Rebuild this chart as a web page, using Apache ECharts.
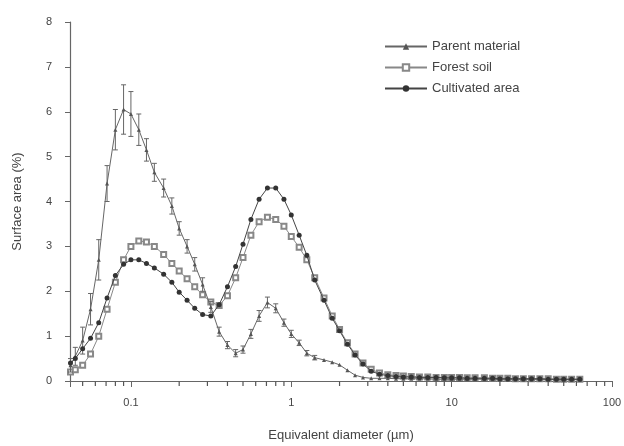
<!DOCTYPE html>
<html>
<head>
<meta charset="utf-8">
<script src="https://cdn.jsdelivr.net/npm/echarts@6/dist/echarts.min.js"></script>
<style>
  html, body { margin: 0; padding: 0; background: #fff; }
  #main { width: 624px; height: 446px; }
</style>
</head>
<body>
<div id="main"></div>
<script>
// equivalent diameter (um), one bin per point
var diameters = [0.042, 0.045, 0.05, 0.056, 0.063, 0.071, 0.08, 0.09,
  0.1, 0.112, 0.125, 0.14, 0.16, 0.18, 0.2, 0.224, 0.25, 0.28, 0.315, 0.355, 0.4, 0.45, 0.5, 0.56, 0.63, 0.71, 0.8, 0.9,
  1.0, 1.12, 1.25, 1.4, 1.6, 1.8, 2.0, 2.24, 2.5, 2.8, 3.15, 3.55, 4.0, 4.5, 5.0, 5.6, 6.3, 7.1, 8.0, 9.0,
  10, 11.2, 12.5, 14, 16, 18, 20, 22.4, 25, 28, 31.5, 35.5, 40, 45, 50, 56, 63]

var parentMaterial = [0.35, 0.55, 0.9, 1.6, 2.7, 4.4, 5.6, 6.05,
  5.95, 5.6, 5.15, 4.65, 4.3, 3.9, 3.4, 3.0, 2.6, 2.15, 1.65, 1.1, 0.8, 0.62, 0.7, 1.05, 1.45, 1.75, 1.62, 1.3,
  1.05, 0.85, 0.62, 0.52, 0.47, 0.42, 0.36, 0.24, 0.13, 0.08, 0.06, 0.06, 0.06, 0.05, 0.05, 0.05, 0.05, 0.05, 0.04, 0.04,
  0.04, 0.04, 0.04, 0.04, 0.04, 0.04, 0.03, 0.03, 0.03, 0.03, 0.03, 0.03, 0.03, 0.03, 0.03, 0.03, 0.03]

// half-height of the error bars on parent material (first bins only)
var parentErr = [0.15, 0.2, 0.3, 0.35, 0.45, 0.4, 0.45, 0.55,
  0.5, 0.35, 0.25, 0.2, 0.2, 0.18, 0.15, 0.15, 0.15, 0.15, 0.12, 0.1, 0.08, 0.08, 0.08, 0.1, 0.12, 0.12, 0.1, 0.08,
  0.08, 0.06, 0.06, 0.05]

var forestSoil = [0.2, 0.25, 0.35, 0.6, 1.0, 1.6, 2.2, 2.7,
  3.0, 3.12, 3.1, 3.0, 2.82, 2.62, 2.45, 2.28, 2.1, 1.92, 1.76, 1.68, 1.9, 2.3, 2.75, 3.25, 3.55, 3.65, 3.6, 3.45,
  3.22, 2.98, 2.7, 2.3, 1.85, 1.45, 1.15, 0.85, 0.6, 0.4, 0.26, 0.18, 0.14, 0.12, 0.11, 0.1, 0.09, 0.09, 0.08, 0.08,
  0.08, 0.08, 0.07, 0.07, 0.07, 0.06, 0.06, 0.06, 0.05, 0.05, 0.05, 0.05, 0.05, 0.04, 0.04, 0.04, 0.04]

var cultivatedArea = [0.4, 0.5, 0.72, 0.95, 1.3, 1.85, 2.35, 2.6,
  2.7, 2.7, 2.62, 2.52, 2.38, 2.2, 1.98, 1.8, 1.62, 1.48, 1.45, 1.7, 2.1, 2.55, 3.05, 3.6, 4.05, 4.3, 4.3, 4.05,
  3.7, 3.25, 2.8, 2.25, 1.8, 1.4, 1.12, 0.82, 0.58, 0.38, 0.22, 0.15, 0.12, 0.1, 0.09, 0.09, 0.08, 0.08, 0.08, 0.07,
  0.07, 0.07, 0.06, 0.06, 0.06, 0.06, 0.05, 0.05, 0.05, 0.05, 0.05, 0.05, 0.04, 0.04, 0.04, 0.04, 0.04]

// minor ticks of the log axis
var minorTicks = [0.05, 0.06, 0.07, 0.08, 0.09, 0.2, 0.3, 0.4, 0.5, 0.6, 0.7, 0.8, 0.9,
  2, 3, 4, 5, 6, 7, 8, 9, 20, 30, 40, 50, 60, 70, 80, 90]

var seriesNames = ['Parent material', 'Forest soil', 'Cultivated area']

var font = 'Liberation Sans, Arial, sans-serif'
var myChart = echarts.init(document.getElementById('main'))

function pairs(values) {
  return values.map(function (v, i) { return [diameters[i], v] })
}

var errData = parentErr.map(function (e, i) {
  return [diameters[i], parentMaterial[i] - e, parentMaterial[i] + e]
})

var xMin = 0.0417
var xMax = 100

myChart.setOption({
  animation: false,
  backgroundColor: '#fff',
  grid: { left: 70, right: 12, top: 22, bottom: 65, outerBoundsMode: 'none' },
  legend: {
    orient: 'vertical',
    left: 379,
    top: 35,
    itemWidth: 42,
    itemHeight: 8,
    itemGap: 8,
    data: seriesNames,
    textStyle: { fontFamily: font, fontSize: 13, color: '#444' }
  },
  xAxis: {
    type: 'log',
    logBase: 10,
    min: xMin,
    max: xMax,
    name: 'Equivalent diameter (µm)',
    nameLocation: 'middle',
    nameGap: 48,
    nameTextStyle: { fontFamily: font, fontSize: 13, color: '#444' },
    axisLine: { lineStyle: { color: '#666', width: 1.2 } },
    axisTick: { length: 6, lineStyle: { color: '#666' } },
    splitLine: { show: false },
    axisLabel: {
      fontFamily: font, fontSize: 11, color: '#444', margin: 16,
      formatter: function (v) {
        var p = Math.log10(v)
        if (Math.abs(p - Math.round(p)) > 1e-6) return ''
        return String(+v.toPrecision(3))
      }
    }
  },
  yAxis: {
    type: 'value',
    min: 0,
    max: 8,
    interval: 1,
    name: 'Surface area (%)',
    nameLocation: 'middle',
    nameGap: 46,
    nameTextStyle: { fontFamily: font, fontSize: 13, color: '#444' },
    axisLine: { show: true, lineStyle: { color: '#666', width: 1.2 } },
    axisTick: { show: true, length: 5, lineStyle: { color: '#666' } },
    splitLine: { show: false },
    axisLabel: { fontFamily: font, fontSize: 11, color: '#444', margin: 18 }
  },
  series: [
    {
      name: seriesNames[0],
      type: 'line',
      data: pairs(parentMaterial),
      symbol: 'triangle',
      symbolSize: 4,
      lineStyle: { color: '#666', width: 1 },
      itemStyle: { color: '#555' },
      z: 3
    },
    {
      name: seriesNames[1],
      type: 'line',
      data: pairs(forestSoil),
      symbol: 'emptyRect',
      symbolSize: 5,
      lineStyle: { color: '#888', width: 1 },
      itemStyle: { color: '#888', borderColor: '#888', borderWidth: 1 },
      z: 2
    },
    {
      name: seriesNames[2],
      type: 'line',
      data: pairs(cultivatedArea),
      symbol: 'circle',
      symbolSize: 5,
      lineStyle: { color: '#444', width: 1 },
      itemStyle: { color: '#333' },
      z: 4
    },
    {
      // error bars for parent material
      type: 'custom',
      silent: true,
      data: errData,
      encode: { x: 0, y: [1, 2] },
      renderItem: function (params, api) {
        var lo = api.coord([api.value(0), api.value(1)])
        var hi = api.coord([api.value(0), api.value(2)])
        var style = { stroke: '#666', lineWidth: 1 }
        return {
          type: 'group',
          children: [
            { type: 'line', shape: { x1: lo[0], y1: lo[1], x2: hi[0], y2: hi[1] }, style: style },
            { type: 'line', shape: { x1: lo[0] - 2.5, y1: lo[1], x2: lo[0] + 2.5, y2: lo[1] }, style: style },
            { type: 'line', shape: { x1: hi[0] - 2.5, y1: hi[1], x2: hi[0] + 2.5, y2: hi[1] }, style: style }
          ]
        }
      },
      z: 3
    },
    {
      // minor ticks hanging under the x axis
      type: 'custom',
      silent: true,
      clip: false,
      data: minorTicks.map(function (t) { return [t, 0.3, 0.3] }),
      encode: { x: 0, y: [1, 2] },
      renderItem: function (params, api) {
        var p = api.coord([api.value(0), 0])
        var style = { stroke: '#555', lineWidth: 1.2 }
        return {
          type: 'group',
          children: [
            { type: 'line', shape: { x1: p[0], y1: p[1] + 0.5, x2: p[0], y2: p[1] + 5 }, style: style }
          ]
        }
      },
      z: 5
    }
  ]
})
</script>
</body>
</html>
